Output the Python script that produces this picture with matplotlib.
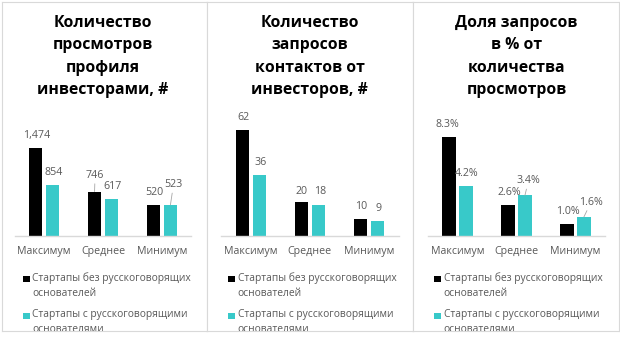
import matplotlib
matplotlib.use("Agg")
import matplotlib.pyplot as plt
import matplotlib.transforms as mtransforms
from matplotlib.patches import Rectangle
import numpy as np

plt.rcParams['font.family'] = ['Open Sans', 'DejaVu Sans']

# data
categories = ["Максимум", "Среднее", "Минимум"]
views_no_ru = [1474, 746, 520]
views_ru = [854, 617, 523]
requests_no_ru = [62, 20, 10]
requests_ru = [36, 18, 9]
share_no_ru = [8.3, 2.6, 1.0]
share_ru = [4.2, 3.4, 1.6]

titles = [
    "Количество\nпросмотров\nпрофиля\nинвесторами, #",
    "Количество\nзапросов\nконтактов от\nинвесторов, #",
    "Доля запросов\nв % от\nколичества\nпросмотров",
]
series_names = [
    "Стартапы без русскоговорящих\nоснователей",
    "Стартапы с русскоговорящими\nоснователями",
]
label_formats = ["{:,.0f}", "{:.0f}", "{:.1f}%"]

BLACK = "#000000"
CYAN = "#38C9C9"
GREY_TXT = "#595959"
GRID = "#D9D9D9"

W, H = 620, 345
fig = plt.figure(figsize=(W / 100, H / 100), dpi=100)
fig.patch.set_facecolor("white")

# top-left pixel coordinates for layout
pix = mtransforms.Affine2D().scale(1 / W, -1 / H).translate(0, 1) + fig.transFigure


def rect(x0, y0, x1, y1):
    return [x0 / W, 1 - y1 / H, (x1 - x0) / W, (y1 - y0) / H]


panels = [(2, 207), (207, 413), (413, 619)]
plots = [(14.5, 191.5), (221.2, 398.5), (428, 605)]
ytops = [2114, 73.9, 10.54]
PANEL_TOP, PANEL_BOT = 2, 331
PLOT_TOP, PLOT_BOT = 110, 236

datasets = [
    (views_no_ru, views_ru),
    (requests_no_ru, requests_ru),
    (share_no_ru, share_ru),
]

# hand-placed labels: (panel, series, category) -> (dx, dy, leader)
label_moves = {
    (0, 0, 1): (0.5, 16, True),
    (0, 1, 2): (3, 20, True),
    (1, 0, 1): (0, 10, False),
    (1, 1, 1): (1.5, 13.5, False),
    (2, 0, 0): (-1.5, 12, False),
    (2, 1, 1): (3.5, 14.5, True),
    (2, 1, 2): (7, 14.5, True),
}

x = np.arange(len(categories))
bw = 0.225
off = 0.143

for p, ((px0, px1), (ax0, ax1), ytop, (no_ru, ru), title, fmt) in enumerate(
        zip(panels, plots, ytops, datasets, titles, label_formats)):
    bg = fig.add_axes(rect(px0, PANEL_TOP, px1, PANEL_BOT), zorder=0)
    bg.set_xticks([])
    bg.set_yticks([])
    for s in bg.spines.values():
        s.set_color(GRID)
        s.set_linewidth(0.8)

    ax = fig.add_axes(rect(ax0, PLOT_TOP, ax1, PLOT_BOT), zorder=1)
    ax.patch.set_alpha(0)
    for key in ["top", "left", "right"]:
        ax.spines[key].set_visible(False)
    ax.spines["bottom"].set_color(GRID)
    ax.spines["bottom"].set_linewidth(1)
    ax.set_xlim(-0.5, 2.5)
    ax.set_ylim(0, ytop)
    ax.set_yticks([])
    ax.set_xticks(x)
    ax.set_xticklabels(categories, fontsize=7.7, color=GREY_TXT)
    ax.tick_params(axis="x", length=0, pad=7)

    for si, (vals, col, dxs) in enumerate([(no_ru, BLACK, -off), (ru, CYAN, off)]):
        bars = ax.bar(x + dxs, vals, width=bw, color=col)
        for ci, (b, v) in enumerate(zip(bars, vals)):
            dx, dy, leader = label_moves.get((p, si, ci), (1, 12.5, False))
            arrow = dict(arrowstyle="-", color="#A6A6A6", lw=0.6,
                         shrinkA=0, shrinkB=0) if leader else None
            ax.annotate(fmt.format(v), xy=(b.get_x() + b.get_width() / 2, v),
                        xytext=(dx, dy), textcoords="offset pixels",
                        ha="center", va="center", fontsize=7.7,
                        color=GREY_TXT, arrowprops=arrow)

    # title
    cx = (ax0 + ax1) / 2
    fig.text(cx, 56.5, title, transform=pix, ha="center", va="center",
             fontsize=11.3, fontweight="bold", color="black",
             linespacing=1.53)

    # legend, clipped at the panel frame
    for k, (name, col) in enumerate(zip(series_names, [BLACK, CYAN])):
        ly = 279 + 37 * k
        bg.add_patch(Rectangle((px0 + 21, ly - 3.5), 6.5, 6.5, transform=pix,
                               facecolor=col, edgecolor="none", clip_on=False))
        bg.text(px0 + 30.5, ly - 6.5, name, transform=pix, ha="left", va="top",
                fontsize=7.4, color=GREY_TXT, linespacing=1.45, clip_on=True)

fig.savefig("out.png", dpi=100, facecolor="white")
